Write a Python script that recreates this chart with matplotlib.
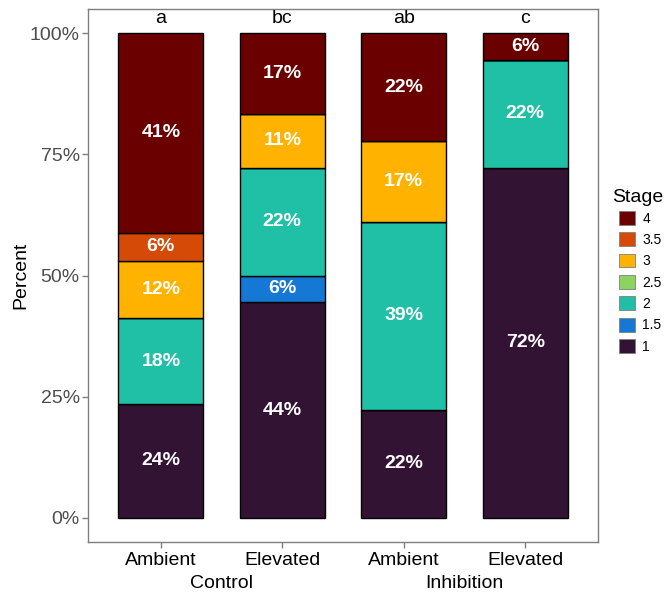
import matplotlib
matplotlib.use("Agg")
import matplotlib.pyplot as plt
from matplotlib.patches import Patch
import numpy as np

plt.rcParams['font.family'] = ['Liberation Sans', 'DejaVu Sans']

# Individuals per developmental stage in each treatment group
groups = ["Control", "Control", "Inhibition", "Inhibition"]
co2 = ["Ambient", "Elevated", "Ambient", "Elevated"]
stages = ["1", "1.5", "2", "2.5", "3", "3.5", "4"]
counts = {
    "1":   [4, 8, 4, 13],
    "1.5": [0, 1, 0, 0],
    "2":   [3, 4, 7, 4],
    "2.5": [0, 0, 0, 0],
    "3":   [2, 2, 3, 0],
    "3.5": [1, 0, 0, 0],
    "4":   [7, 3, 4, 1],
}
letters = ["a", "bc", "ab", "c"]
stage_colors = {
    "1": "#331334",
    "1.5": "#1478D4",
    "2": "#20C0A6",
    "2.5": "#8DD35F",
    "3": "#FFB300",
    "3.5": "#D54A06",
    "4": "#6B0000",
}

totals = np.sum([counts[s] for s in stages], axis=0)
x = np.arange(1, len(co2) + 1)

fig = plt.figure(figsize=(6.66, 5.94), dpi=100)
ax = fig.add_axes([88 / 666, 1 - 542 / 594, 510 / 666, 533 / 594])

bottom = np.zeros(len(x))
for s in stages:
    frac = np.array(counts[s]) / totals
    ax.bar(x, frac, width=0.7, bottom=bottom, color=stage_colors[s],
           edgecolor="black", linewidth=1.0, zorder=2)
    for xi, b, f in zip(x, bottom, frac):
        if f > 0:
            ax.text(xi, b + f / 2, f"{f * 100:.0f}%", ha="center", va="center",
                    color="white", fontsize=14, fontweight="bold", zorder=3)
    bottom += frac

for xi, lab in zip(x, letters):
    ax.text(xi, 1.013, lab, ha="center", va="bottom", fontsize=14, color="black")

ax.set_xlim(0.4, 4.6)
ax.set_ylim(-0.05, 1.05)
ax.set_yticks([0, 0.25, 0.5, 0.75, 1.0])
ax.set_yticklabels(["0%", "25%", "50%", "75%", "100%"])
ax.set_xticks(x)
ax.set_xticklabels(co2)
ax.tick_params(axis="y", colors="#7F7F7F", labelcolor="#4D4D4D", labelsize=14,
               length=4, width=1, pad=2)
ax.tick_params(axis="x", colors="#7F7F7F", labelcolor="black", labelsize=14,
               length=4, width=1, pad=3)
for sp in ax.spines.values():
    sp.set_color("#7F7F7F")
    sp.set_linewidth(1.0)
ax.set_ylabel("Percent", fontsize=14, labelpad=0)

# Treatment group labels under the CO2 labels
for gname in ["Control", "Inhibition"]:
    idx = [i for i, g in enumerate(groups) if g == gname]
    xc = np.mean(x[idx])
    ax.annotate(gname, xy=(xc, 0), xycoords=("data", "axes fraction"),
                xytext=(0, -30), textcoords="offset points",
                ha="center", va="center", fontsize=14, annotation_clip=False)

# Stage legend: title on its own, keys indented beneath it
fig.text(612 / 666, 1 - 198 / 594, "Stage", ha="left", va="center", fontsize=14)
handles = [Patch(facecolor=stage_colors[s], edgecolor="#7F7F7F", linewidth=0.6, label=s)
           for s in reversed(stages)]
leg = fig.legend(handles=handles, loc="upper left",
                 bbox_to_anchor=(619 / 666, 1 - 211 / 594), frameon=False,
                 fontsize=10, handlelength=1.14, handleheight=1.14,
                 labelspacing=0.49, handletextpad=0.55, borderaxespad=0,
                 borderpad=0)

fig.savefig("out.png", dpi=100)
